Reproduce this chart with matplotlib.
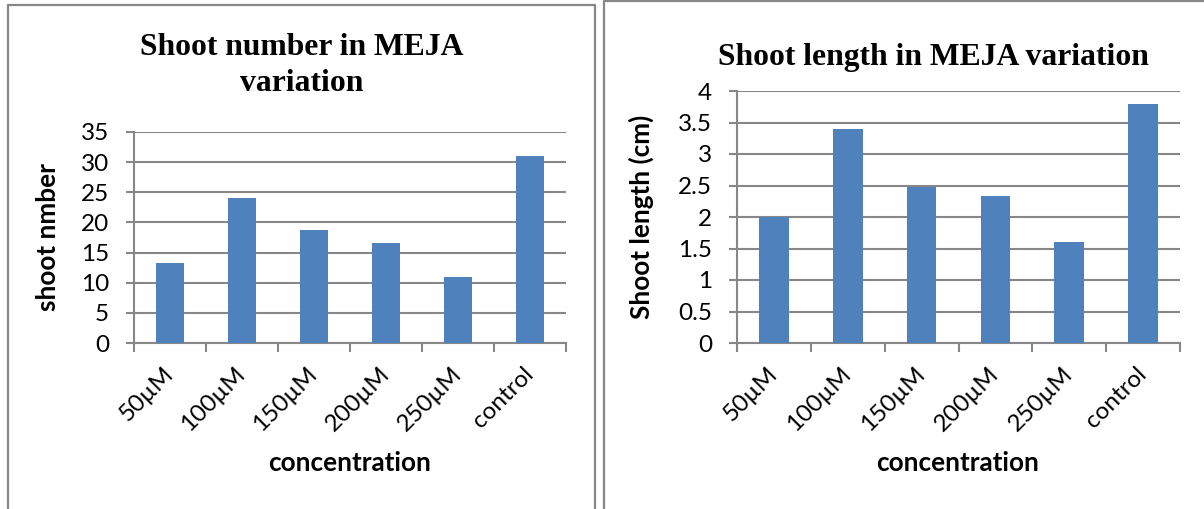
import matplotlib
matplotlib.use("Agg")
import matplotlib.pyplot as plt
from matplotlib.lines import Line2D

# Data
concentrations = ["50µM", "100µM", "150µM", "200µM", "250µM", "control"]
shoot_number = [13.3, 24.0, 18.67, 16.6, 11.0, 31.0]
shoot_length = [2.0, 3.4, 2.47, 2.33, 1.6, 3.8]

W, H = 1204, 509
BAR = "#4F81BD"
GRID = "#878787"
SANS = ["Lato", "DejaVu Sans"]
SERIF = ["Liberation Serif", "DejaVu Serif"]

plt.rcParams["font.family"] = SANS

fig = plt.figure(figsize=(W / 100, H / 100), dpi=100)


def px_axes(x0, y_top, x1, y_bottom):
    return fig.add_axes([x0 / W, (H - y_bottom) / H, (x1 - x0) / W, (y_bottom - y_top) / H])


def style_axes(ax, values, ymax, ystep, ylabel, tick_fmt):
    n = len(values)
    x = list(range(n))
    ax.bar(x, values, width=0.4, color=BAR, edgecolor="none", zorder=3)
    ax.set_xlim(-0.5, n - 0.5)
    ax.set_ylim(0, ymax)
    yt = [i * ystep for i in range(int(round(ymax / ystep)) + 1)]
    ax.set_yticks(yt)
    ax.set_yticklabels([tick_fmt(v) for v in yt], fontsize=17.5)
    ax.yaxis.grid(True, color=GRID, linewidth=1.5, zorder=0)
    ax.tick_params(axis="y", direction="out", length=5.8, width=1.5, color=GRID, pad=12)
    # category boundaries as major ticks, labels at category centres
    ax.set_xticks([i - 0.5 for i in range(n + 1)])
    ax.set_xticklabels([])
    ax.set_xticks(x, minor=True)
    ax.set_xticklabels(concentrations, minor=True, fontsize=17.5, rotation=45,
                       ha="right", va="center", rotation_mode="anchor")
    ax.tick_params(axis="x", which="major", direction="out", length=6.5, width=1.5, color=GRID)
    ax.tick_params(axis="x", which="minor", length=0, pad=20)
    for s in ("top", "right"):
        ax.spines[s].set_visible(False)
    for s in ("left", "bottom"):
        ax.spines[s].set_color(GRID)
        ax.spines[s].set_linewidth(1.5)
    ax.set_ylabel(ylabel, fontsize=18.8, fontweight="bold")
    ax.text(0.5, 0, "concentration", transform=ax.transAxes, fontsize=18.8,
            fontweight="bold", ha="center", va="center")


# Left panel: shoot number
ax1 = px_axes(134, 132, 566, 343)
style_axes(ax1, shoot_number, 35, 5, "shoot nmber", lambda v: f"{v:g}")
ax1.yaxis.set_label_coords(-0.171, 0.5)
ax1.texts[-1].set_position((0.499, (342.7 - 463) / 210.7))

# Right panel: shoot length
ax2 = px_axes(737, 91, 1180, 343)
style_axes(ax2, shoot_length, 4, 0.5, "Shoot length (cm)", lambda v: f"{v:g}")
ax2.yaxis.set_label_coords(-0.187, 0.5)
ax2.texts[-1].set_position((0.499, (343.3 - 463) / 252.3))

# Titles
fig.text(301.5 / W, 1 - 65.5 / H, "Shoot number in MEJA\nvariation", family=SERIF,
         fontweight="bold", fontsize=22.8, ha="center", va="center", linespacing=1.36)
fig.text(933 / W, 1 - 57 / H, "Shoot length in MEJA variation", family=SERIF,
         fontweight="bold", fontsize=22.8, ha="center", va="center")

# Panel frames
def frame_line(xs, ys):
    fig.add_artist(Line2D([x / W for x in xs], [1 - y / H for y in ys],
                          color=GRID, linewidth=1.6, solid_capstyle="butt"))

frame_line([7.5, 7.5, 594.5, 594.5], [H + 2, 5, 5, H + 2])
frame_line([603.5, 603.5, W + 2], [H + 2, 0.8, 0.8])

fig.savefig("out.png", dpi=100, facecolor="white")
